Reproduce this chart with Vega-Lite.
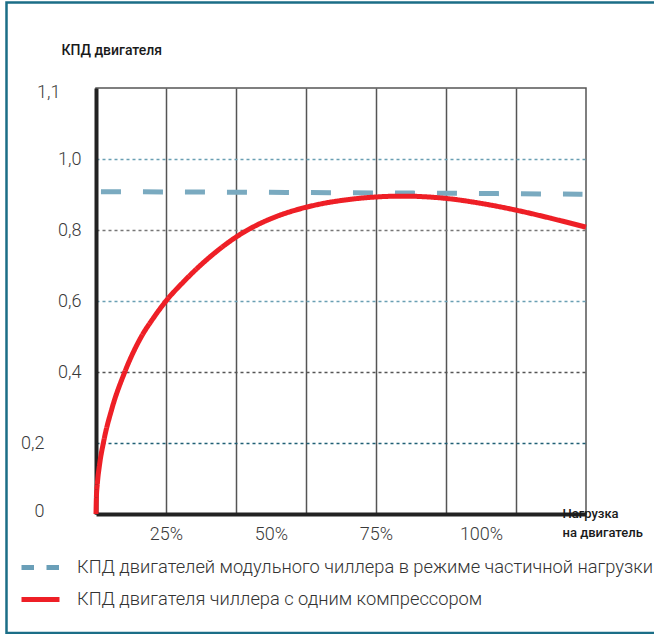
{
  "$schema": "https://vega.github.io/schema/vega-lite/v6.json",
  "width": 490,
  "height": 426,
  "autosize": {"type": "none"},
  "padding": {"left": 96, "top": 88, "right": 68, "bottom": 120},
  "background": "white",
  "config": {"view": {"stroke": "#555", "strokeWidth": 1.5}, "font": "Roboto"},
  "datasets": {
    "lines": [
      {"series": "КПД двигателей модульного чиллера в режиме частичной нагрузки", "x": 0.071, "y": 0.908},
      {"series": "КПД двигателей модульного чиллера в режиме частичной нагрузки", "x": 3.5, "y": 0.905},
      {"series": "КПД двигателей модульного чиллера в режиме частичной нагрузки", "x": 6.95, "y": 0.901},
      {"series": "КПД двигателя чиллера с одним компрессором", "x": 0, "y": 0},
      {"series": "КПД двигателя чиллера с одним компрессором", "x": 0.005, "y": 0.044},
      {"series": "КПД двигателя чиллера с одним компрессором", "x": 0.02, "y": 0.087},
      {"series": "КПД двигателя чиллера с одним компрессором", "x": 0.05, "y": 0.138},
      {"series": "КПД двигателя чиллера с одним компрессором", "x": 0.105, "y": 0.2},
      {"series": "КПД двигателя чиллера с одним компрессором", "x": 0.229, "y": 0.298},
      {"series": "КПД двигателя чиллера с одним компрессором", "x": 0.405, "y": 0.397},
      {"series": "КПД двигателя чиллера с одним компрессором", "x": 0.643, "y": 0.498},
      {"series": "КПД двигателя чиллера с одним компрессором", "x": 0.82, "y": 0.552},
      {"series": "КПД двигателя чиллера с одним компрессором", "x": 1.0, "y": 0.6},
      {"series": "КПД двигателя чиллера с одним компрессором", "x": 1.25, "y": 0.654},
      {"series": "КПД двигателя чиллера с одним компрессором", "x": 1.5, "y": 0.702},
      {"series": "КПД двигателя чиллера с одним компрессором", "x": 1.75, "y": 0.744},
      {"series": "КПД двигателя чиллера с одним компрессором", "x": 2.0, "y": 0.78},
      {"series": "КПД двигателя чиллера с одним компрессором", "x": 2.25, "y": 0.809},
      {"series": "КПД двигателя чиллера с одним компрессором", "x": 2.5, "y": 0.832},
      {"series": "КПД двигателя чиллера с одним компрессором", "x": 2.75, "y": 0.85},
      {"series": "КПД двигателя чиллера с одним компрессором", "x": 3.0, "y": 0.864},
      {"series": "КПД двигателя чиллера с одним компрессором", "x": 3.25, "y": 0.875},
      {"series": "КПД двигателя чиллера с одним компрессором", "x": 3.5, "y": 0.883},
      {"series": "КПД двигателя чиллера с одним компрессором", "x": 3.75, "y": 0.889},
      {"series": "КПД двигателя чиллера с одним компрессором", "x": 4.0, "y": 0.893},
      {"series": "КПД двигателя чиллера с одним компрессором", "x": 4.25, "y": 0.895},
      {"series": "КПД двигателя чиллера с одним компрессором", "x": 4.5, "y": 0.895},
      {"series": "КПД двигателя чиллера с одним компрессором", "x": 4.75, "y": 0.893},
      {"series": "КПД двигателя чиллера с одним компрессором", "x": 5.0, "y": 0.889},
      {"series": "КПД двигателя чиллера с одним компрессором", "x": 5.5, "y": 0.875},
      {"series": "КПД двигателя чиллера с одним компрессором", "x": 6.0, "y": 0.856},
      {"series": "КПД двигателя чиллера с одним компрессором", "x": 6.5, "y": 0.833},
      {"series": "КПД двигателя чиллера с одним компрессором", "x": 7.0, "y": 0.808}
    ]
  },
  "resolve": {"scale": {"strokeDash": "independent", "color": "independent"}},
  "layer": [
    {
      "data": {"values": [{"frame": "border"}]},
      "mark": {"type": "rect", "filled": false, "stroke": "#1b6e87", "strokeWidth": 2.5, "clip": false},
      "encoding": {
        "x": {"datum": -1.2786, "type": "quantitative"},
        "x2": {"datum": 8.06},
        "y": {"datum": 1.4408, "type": "quantitative"},
        "y2": {"datum": -0.3352}
      }
    },
    {
      "data": {"name": "lines"},
      "mark": {"type": "line", "strokeWidth": 5, "interpolate": "monotone", "clip": false},
      "encoding": {
        "x": {
          "field": "x", "type": "quantitative",
          "scale": {"domain": [0, 7], "nice": false, "zero": false},
          "axis": {
            "values": [1, 2, 2.5, 3, 4, 5, 5.5, 6],
            "labelExpr": "datum.value==1?'25%':datum.value==2.5?'50%':datum.value==4?'75%':datum.value==5.5?'100%':''",
            "labelOverlap": false,
            "labelFlush": false,
            "ticks": false,
            "domainColor": "#222",
            "domainWidth": 4,
            "grid": true,
            "gridColor": "#555",
            "gridWidth": 1.5,
            "gridOpacity": {"condition": {"test": "datum.value % 1 == 0", "value": 1}, "value": 0},
            "labelFont": "Roboto",
            "labelFontSize": 18,
            "labelFontWeight": 300,
            "labelColor": "#3a3a3a",
            "labelPadding": 11,
            "title": ["Нагрузка", "на двигатель"],
            "titleX": 466,
            "titleY": -7,
            "titleAlign": "left",
            "titleBaseline": "top",
            "titleAnchor": "start",
            "titleFont": "Roboto",
            "titleFontSize": 13,
            "titleFontWeight": 500,
            "titleColor": "#1a1a1a",
            "titleLineHeight": 19
          }
        },
        "y": {
          "field": "y", "type": "quantitative",
          "scale": {"domain": [0, 1.2], "nice": false, "zero": false},
          "axis": {
            "values": [0, 0.2, 0.4, 0.6, 0.8, 1, 1.2],
            "labelExpr": "datum.value==1.2?'1,1':datum.value==0?'0':replace(format(datum.value,'.1f'),'.',',')",
            "ticks": false,
            "domainColor": "#222",
            "domainWidth": 4,
            "grid": true,
            "gridDash": [3, 3],
            "gridWidth": 1.5,
            "gridColor": {"condition": [
              {"test": "datum.value == 0.2", "value": "#1f5f75"},
              {"test": "datum.value == 0.4", "value": "#555"},
              {"test": "datum.value == 0.8", "value": "#777"}
            ], "value": "#6a9fb3"},
            "gridOpacity": {"condition": {"test": "datum.value == 0 || datum.value == 1.2", "value": 0}, "value": 1},
            "labelFont": "Roboto",
            "labelFontSize": 18,
            "labelFontWeight": 300,
            "labelColor": "#3a3a3a",
            "labelPadding": {"condition": [
              {"test": "datum.value == 1.2", "value": 36},
              {"test": "datum.value <= 0.2", "value": 52}
            ], "value": 15},
            "labelOffset": {"condition": [
              {"test": "datum.value == 1.2", "value": 4},
              {"test": "datum.value == 0", "value": -3}
            ], "value": 0},
            "title": "КПД двигателя",
            "titleAngle": 0,
            "titleX": -35,
            "titleY": -38,
            "titleAlign": "left",
            "titleBaseline": "middle",
            "titleAnchor": "start",
            "titleFont": "Roboto",
            "titleFontSize": 14,
            "titleFontWeight": 500,
            "titleColor": "#1a1a1a"
          }
        },
        "color": {
          "field": "series", "type": "nominal",
          "scale": {
            "domain": ["КПД двигателей модульного чиллера в режиме частичной нагрузки", "КПД двигателя чиллера с одним компрессором"],
            "range": ["#7aaac0", "#ee1f26"]
          },
          "legend": null
        },
        "strokeDash": {
          "field": "series", "type": "nominal",
          "scale": {
            "domain": ["КПД двигателей модульного чиллера в режиме частичной нагрузки", "КПД двигателя чиллера с одним компрессором"],
            "range": [[20, 22], [1, 0]]
          },
          "legend": null
        }
      }
    },
    {
      "data": {"name": "lines"},
      "transform": [{"filter": "datum.x == 3.5"}],
      "mark": {"type": "line", "strokeWidth": 5, "clip": false},
      "encoding": {
        "x": {"field": "x", "type": "quantitative", "title": ["Нагрузка", "на двигатель"]},
        "y": {"field": "y", "type": "quantitative", "title": "КПД двигателя"},
        "color": {
          "field": "series", "type": "nominal",
          "scale": {
            "domain": ["КПД двигателей модульного чиллера в режиме частичной нагрузки", "КПД двигателя чиллера с одним компрессором"],
            "range": ["#6a9fb8", "#ee1f26"]
          },
          "legend": {
            "orient": "none",
            "legendX": -77,
            "legendY": 458,
            "direction": "vertical",
            "title": null,
            "symbolType": "stroke",
            "symbolSize": 1444,
            "symbolStrokeWidth": 5,
            "labelFont": "Roboto",
            "labelFontSize": 18.3,
            "labelFontWeight": 300,
            "labelColor": "#333",
            "labelOffset": 15,
            "labelLimit": 1000,
            "rowPadding": -3
          }
        },
        "strokeDash": {
          "field": "series", "type": "nominal",
          "scale": {
            "domain": ["КПД двигателей модульного чиллера в режиме частичной нагрузки", "КПД двигателя чиллера с одним компрессором"],
            "range": [[12.5, 12.5], [1, 0]]
          },
          "legend": {
            "orient": "none",
            "legendX": -77,
            "legendY": 458,
            "direction": "vertical",
            "title": null,
            "symbolType": "stroke",
            "symbolSize": 1444,
            "symbolStrokeWidth": 5,
            "labelFont": "Roboto",
            "labelFontSize": 18.3,
            "labelFontWeight": 300,
            "labelColor": "#333",
            "labelOffset": 15,
            "labelLimit": 1000,
            "rowPadding": -3
          }
        }
      }
    }
  ]
}
